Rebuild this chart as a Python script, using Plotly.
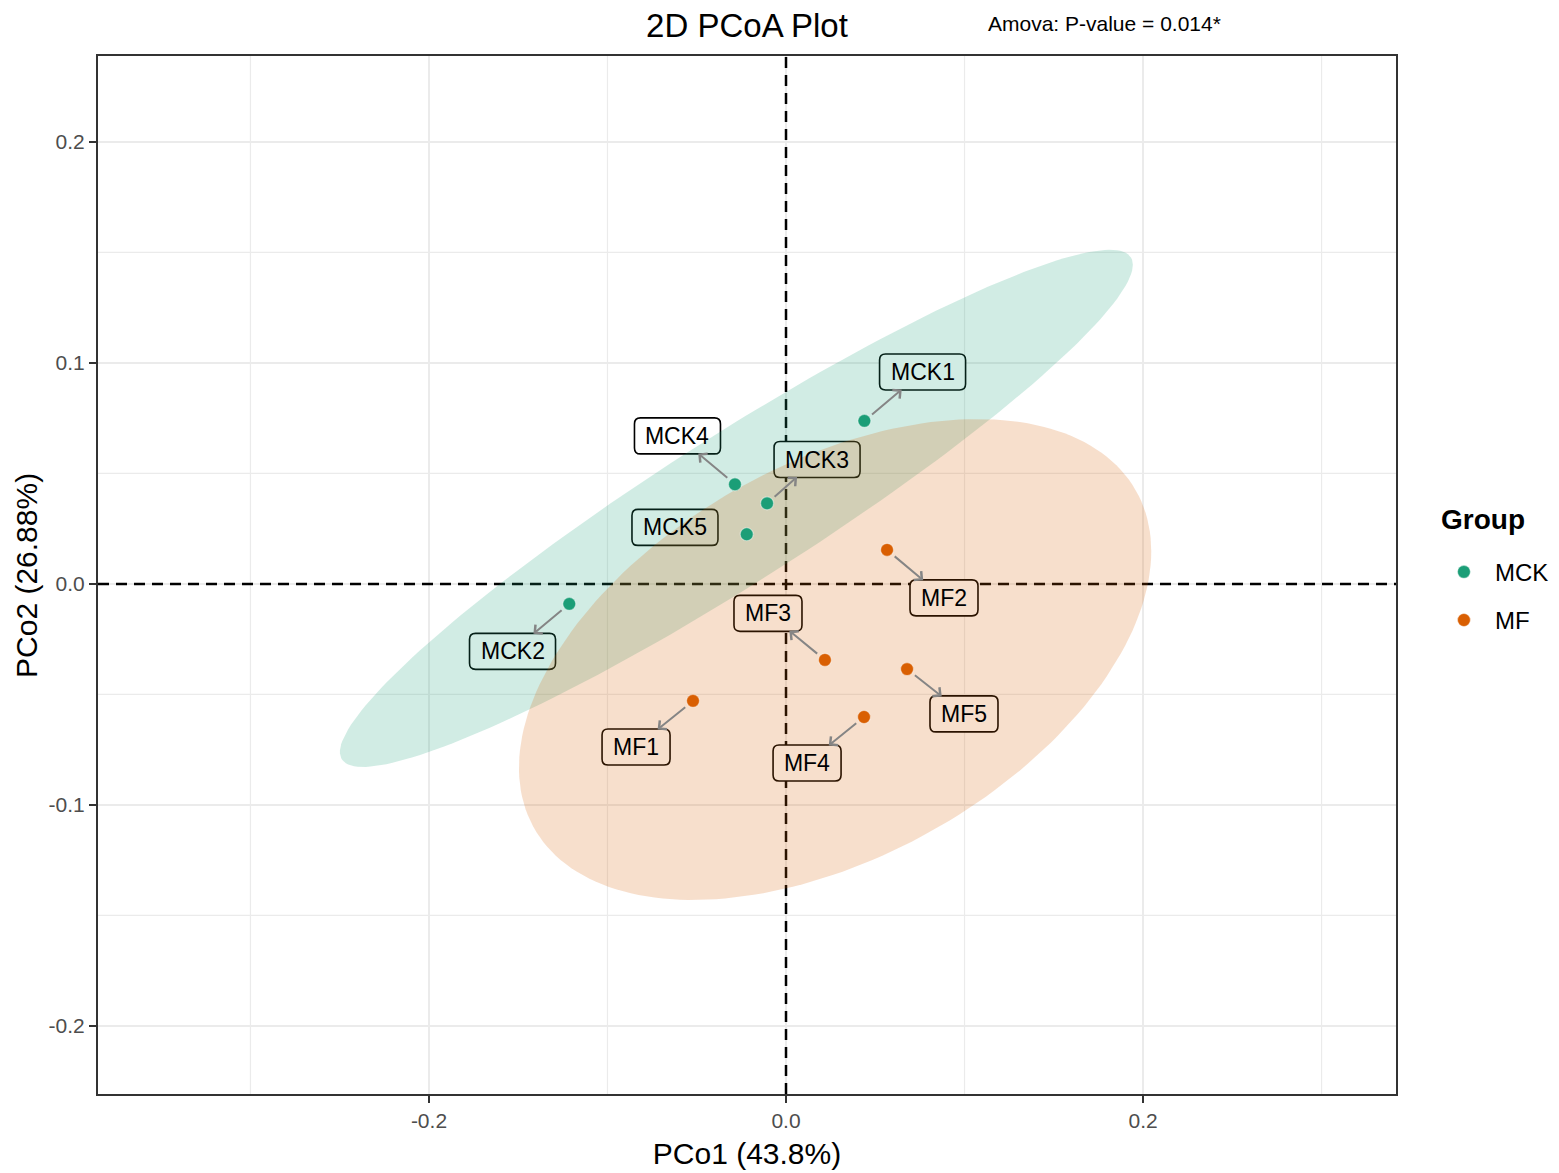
import numpy as np
import plotly.graph_objects as go

# amostras e coordenadas PCoA
amostras = ['MCK1', 'MCK2', 'MCK3', 'MCK4', 'MCK5', 'MF1', 'MF2', 'MF3', 'MF4', 'MF5']
grupos = ['MCK', 'MCK', 'MCK', 'MCK', 'MCK', 'MF', 'MF', 'MF', 'MF', 'MF']
pco1 = [0.0439, -0.1214, -0.0106, -0.0286, -0.0220, -0.0521, 0.0566, 0.0218, 0.0437, 0.0678]
pco2 = [0.0738, -0.0090, 0.0365, 0.0451, 0.0225, -0.0529, 0.0154, -0.0344, -0.0602, -0.0385]

# posicao dos rotulos (repel)
rotulo_x = [0.0765, -0.1532, 0.0174, -0.0608, -0.0622, -0.0840, 0.0885, -0.0101, 0.0118, 0.0997]
rotulo_y = [0.0959, -0.0305, 0.0563, 0.0670, 0.0256, -0.0738, -0.0063, -0.0133, -0.0810, -0.0588]
com_seta = [True, True, True, True, False, True, True, True, True, True]

# elipses de confianca por grupo
nomes_grupo = ['MCK', 'MF']
elipse_cx = [-0.0278, 0.0275]
elipse_cy = [0.0342, -0.0342]
elipse_sx = [0.2221, 0.1771]
elipse_sy = [0.1170, 0.1088]
elipse_r = [0.942, 0.45]

# eixos
x_ticks = [-0.2, 0.0, 0.2]
x_ticktext = ['-0.2', '0.0', '0.2']
x_minor = [-0.3, -0.1, 0.1, 0.3]
y_ticks = [-0.2, -0.1, 0.0, 0.1, 0.2]
y_ticktext = ['-0.2', '-0.1', '0.0', '0.1', '0.2']
y_minor = [-0.15, -0.05, 0.05, 0.15]

cores = {'MCK': '#1b9e77', 'MF': '#d95f02'}
preenchimento = {'MCK': 'rgba(27,158,119,0.2)', 'MF': 'rgba(217,95,2,0.2)'}
fonte = 'Liberation Sans, Arial, sans-serif'
cinza_grade = '#ebebeb'


def caixa_arredondada(w, h, r):
    a, b = w / 2, h / 2
    return (f'M{-a + r},{-b} L{a - r},{-b} Q{a},{-b} {a},{-b + r} '
            f'L{a},{b - r} Q{a},{b} {a - r},{b} L{-a + r},{b} '
            f'Q{-a},{b} {-a},{b - r} L{-a},{-b + r} Q{-a},{-b} {-a + r},{-b} Z')


fig = go.Figure()

# elipses
t = np.linspace(0, 2 * np.pi, 200)
for i, g in enumerate(nomes_grupo):
    ex = elipse_cx[i] + elipse_sx[i] * np.cos(t)
    ey = elipse_cy[i] + elipse_sy[i] * (elipse_r[i] * np.cos(t) + np.sqrt(1 - elipse_r[i] ** 2) * np.sin(t))
    fig.add_trace(go.Scatter(x=ex, y=ey, mode='lines', fill='toself', fillcolor=preenchimento[g],
                             line=dict(width=0), showlegend=False, hoverinfo='skip'))

# pontos
for g in nomes_grupo:
    idx = [i for i in range(len(amostras)) if grupos[i] == g]
    fig.add_trace(go.Scatter(x=[pco1[i] for i in idx], y=[pco2[i] for i in idx], mode='markers', name=g,
                             legendgroup=g, text=[amostras[i] for i in idx],
                             marker=dict(color=cores[g], size=13,
                                         line=dict(color='rgba(255,255,255,0.45)', width=1.2))))

# grade como shapes (para ficar por baixo das linhas tracejadas e das caixas)
shapes = []
for v in x_minor:
    shapes.append(dict(type='line', xref='x', yref='paper', x0=v, x1=v, y0=0, y1=1, layer='below',
                       line=dict(color=cinza_grade, width=1.2)))
for v in y_minor:
    shapes.append(dict(type='line', xref='paper', yref='y', x0=0, x1=1, y0=v, y1=v, layer='below',
                       line=dict(color=cinza_grade, width=1.2)))
for v in x_ticks:
    shapes.append(dict(type='line', xref='x', yref='paper', x0=v, x1=v, y0=0, y1=1, layer='below',
                       line=dict(color=cinza_grade, width=2)))
for v in y_ticks:
    shapes.append(dict(type='line', xref='paper', yref='y', x0=0, x1=1, y0=v, y1=v, layer='below',
                       line=dict(color=cinza_grade, width=2)))

# linhas tracejadas em zero
shapes.append(dict(type='line', xref='x', yref='paper', x0=0, x1=0, y0=0, y1=1, layer='below',
                   line=dict(color='black', width=2.5, dash='11px,7px')))
shapes.append(dict(type='line', xref='paper', yref='y', x0=0, x1=1, y0=0, y1=0, layer='below',
                   line=dict(color='black', width=2.5, dash='11px,7px')))

annotations = []
for i, nome in enumerate(amostras):
    w = 14 + 18 * len(nome)
    h = 36
    shapes.append(dict(type='path', xref='x', yref='y', xsizemode='pixel', ysizemode='pixel',
                       xanchor=rotulo_x[i], yanchor=rotulo_y[i], path=caixa_arredondada(w, h, 6),
                       fillcolor='white', line=dict(color='black', width=1.6), layer='below'))
    ann = dict(text=nome, font=dict(family=fonte, size=23, color='black'),
               width=w - 10, height=h - 10, borderpad=4, borderwidth=1,
               bordercolor='rgba(0,0,0,0)', xref='x', yref='y')
    if com_seta[i]:
        ann.update(x=pco1[i], y=pco2[i], ax=rotulo_x[i], ay=rotulo_y[i], axref='x', ayref='y',
                   showarrow=True, arrowside='end+start', arrowhead=0, startarrowhead=4,
                   startarrowsize=1.1, arrowwidth=2, arrowcolor='#858585', standoff=10)
    else:
        ann.update(x=rotulo_x[i], y=rotulo_y[i], showarrow=False)
    annotations.append(ann)

annotations.append(dict(text='Amova: P-value = 0.014*', xref='paper', yref='paper', x=0.684, y=1.031,
                        xanchor='left', yanchor='middle', showarrow=False,
                        font=dict(family=fonte, size=21, color='black')))
# titulo da legenda
annotations.append(dict(text='<b>Group</b>', xref='paper', yref='paper', x=1.0331, y=0.553,
                        xanchor='left', yanchor='middle', showarrow=False,
                        font=dict(family=fonte, size=28, color='black')))
# titulo do eixo y
annotations.append(dict(text='PCo2 (26.88%)', xref='paper', yref='paper', x=-0.0555, y=0.5,
                        xanchor='center', yanchor='middle', textangle=-90, showarrow=False,
                        font=dict(family=fonte, size=30, color='black')))

eixo = dict(showline=True, linecolor='#333333', linewidth=2, mirror=True, zeroline=False,
            showgrid=False, ticks='outside', ticklen=7,
            tickwidth=2, tickcolor='#333333', tickfont=dict(family=fonte, size=21, color='#4d4d4d'),
            automargin=False)

fig.update_layout(
    width=1559, height=1173,
    paper_bgcolor='white', plot_bgcolor='white',
    margin=dict(l=90, r=171, t=48, b=87),
    title=dict(text='2D PCoA Plot', x=0.5, xref='paper', y=1 - 17 / 1173, yref='container',
               xanchor='center', yanchor='middle', font=dict(family=fonte, size=33, color='black')),
    xaxis=dict(eixo, range=[-0.3854, 0.3417], tickmode='array', tickvals=x_ticks, ticktext=x_ticktext,
               title=dict(text='PCo1 (43.8%)', standoff=12, font=dict(family=fonte, size=30, color='black'))),
    yaxis=dict(eixo, range=[-0.2308, 0.2389], tickmode='array', tickvals=y_ticks, ticktext=y_ticktext),
    legend=dict(xref='container', yref='container', x=0.9140, y=0.5382, xanchor='left', yanchor='top',
                tracegroupgap=14, itemwidth=52,
                font=dict(family=fonte, size=24, color='black'), bgcolor='rgba(0,0,0,0)'),
    shapes=shapes,
    annotations=annotations,
    font=dict(family=fonte),
)

fig.write_html("out.html")
